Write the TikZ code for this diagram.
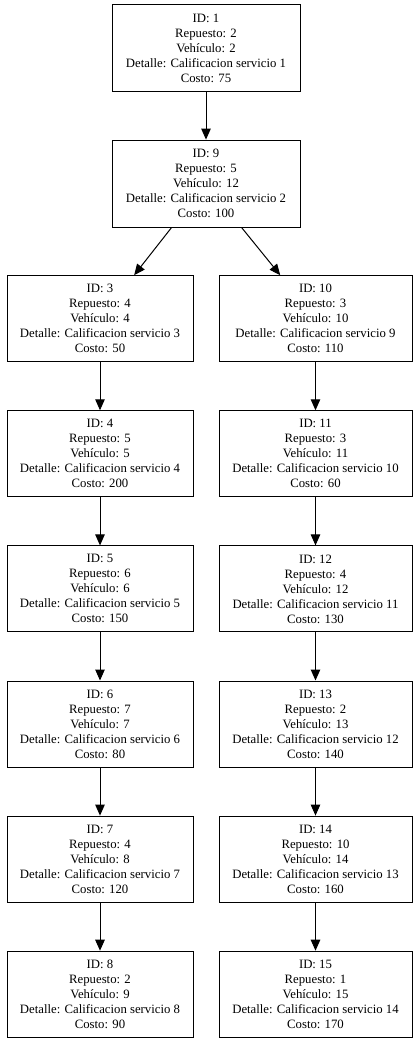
\documentclass[tikz,border=0pt]{standalone}
\usepackage{fontspec}
\setmainfont{Liberation Serif}
\usetikzlibrary{arrows.meta}

\tikzset{
    caja/.style={draw, rectangle, line width=1pt, inner sep=0pt,
        minimum height=86pt, align=center,
        font=\fontsize{12.75}{15}\selectfont},
    cajatop/.style={caja, minimum width=188pt, minimum height=87pt},
    cajaizq/.style={caja, minimum width=186pt},
    cajader/.style={caja, minimum width=193pt},
    flecha/.style={line width=1pt, -{Triangle[length=11pt,width=9.5pt]}}
}

\begin{document}
\begin{tikzpicture}[x=1pt,y=-1pt]
    \useasboundingbox (0,0) rectangle (419,1043);

    \def\paso{135.1}

    \node[cajatop] (n1) at (206,48.5)
        {ID: 1\\Repuesto: 2\\Vehículo: 2\\Detalle: Calificacion servicio 1\\Costo: 75};
    \node[cajatop] (n9) at (206,{48.5+\paso})
        {ID: 9\\Repuesto: 5\\Vehículo: 12\\Detalle: Calificacion servicio 2\\Costo: 100};

    % columna izquierda
    \foreach \id/\rep/\veh/\det/\cos [count=\k from 2] in
        {3/4/4/3/50, 4/5/5/4/200, 5/6/6/5/150, 6/7/7/6/80, 7/4/8/7/120, 8/2/9/8/90}
        \node[cajaizq] (n\id) at (100,{48.5+\paso*\k})
            {ID: \id\\Repuesto: \rep\\Vehículo: \veh\\Detalle: Calificacion servicio \det\\Costo: \cos};

    % columna derecha
    \foreach \id/\rep/\veh/\det/\cos [count=\k from 2] in
        {10/3/10/9/110, 11/3/11/10/60, 12/4/12/11/130, 13/2/13/12/140, 14/10/14/13/160, 15/1/15/14/170}
        \node[cajader] (n\id) at (315.5,{48.5+\paso*\k})
            {ID: \id\\Repuesto: \rep\\Vehículo: \veh\\Detalle: Calificacion servicio \det\\Costo: \cos};

    \foreach \a/\b in {1/9, 9/3, 9/10, 3/4, 4/5, 5/6, 6/7, 7/8, 10/11, 11/12, 12/13, 13/14, 14/15}
        \draw[flecha] (n\a) -- (n\b);
\end{tikzpicture}
\end{document}
